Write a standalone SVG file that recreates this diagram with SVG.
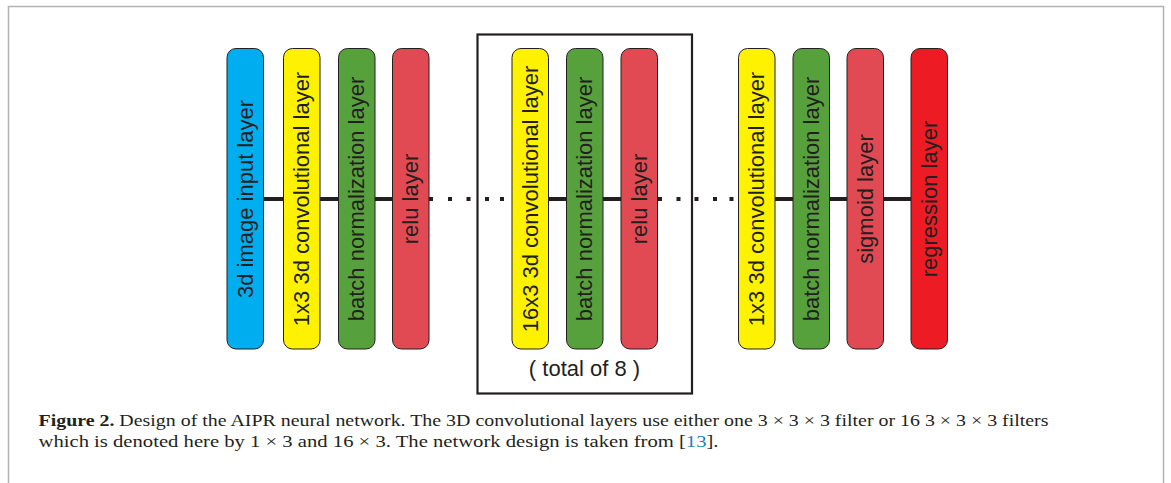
<svg xmlns="http://www.w3.org/2000/svg" width="1171" height="483" viewBox="0 0 1171 483">
<style>
.pill{stroke:#231f20;stroke-width:1}
.lbl{font-family:"Liberation Sans",Arial,sans-serif;font-size:22px;fill:#231f20;text-anchor:middle}
.conn{stroke:#231f20;stroke-width:4;fill:none}
.dot{fill:#231f20}
.cap{font-family:"Liberation Serif","Times New Roman",serif;font-size:17.5px;fill:#231f20}
</style>
<rect width="1171" height="483" fill="#ffffff"/>
<path d="M8.5 483 V6.5 H1163.5 V483" fill="none" stroke="#b3b3b3" stroke-width="1.5"/>

<g id="repeat-box">
<rect x="477.5" y="34.5" width="214.5" height="359" fill="none" stroke="#231f20" stroke-width="2.2"/>
<text class="lbl" x="584.5" y="375.5">( total of 8 )</text>
</g>

<g id="connectors">
<line class="conn" x1="263" y1="199" x2="284" y2="199"/>
<line class="conn" x1="320" y1="199" x2="339" y2="199"/>
<line class="conn" x1="375" y1="199" x2="393" y2="199"/>
<line class="conn" x1="429" y1="199" x2="433" y2="199"/>
<rect class="dot" x="448" y="197" width="4" height="4"/>
<rect class="dot" x="466.5" y="197" width="4" height="4"/>
<rect class="dot" x="485" y="197" width="4" height="4"/>
<rect class="dot" x="500" y="197" width="4" height="4"/>
<line class="conn" x1="548" y1="199" x2="567" y2="199"/>
<line class="conn" x1="603" y1="199" x2="621" y2="199"/>
<line class="conn" x1="657" y1="199" x2="662" y2="199"/>
<rect class="dot" x="676.5" y="197" width="4" height="4"/>
<rect class="dot" x="694.5" y="197" width="4" height="4"/>
<rect class="dot" x="713" y="197" width="4" height="4"/>
<rect class="dot" x="729.5" y="197" width="4" height="4"/>
<line class="conn" x1="775" y1="199" x2="793" y2="199"/>
<line class="conn" x1="829" y1="199" x2="847" y2="199"/>
<line class="conn" x1="883" y1="199" x2="911" y2="199"/>
</g>

<g id="n-input">
<rect class="pill" x="227" y="48.5" width="36.5" height="300.5" rx="9" fill="#00aeef"/>
<text class="lbl" transform="translate(252.5,199) rotate(-90)">3d image input layer</text>
</g>
<g id="n-conv1">
<rect class="pill" x="283.5" y="48.5" width="36.5" height="300.5" rx="9" fill="#fff200"/>
<text class="lbl" transform="translate(309,199) rotate(-90)">1x3 3d convolutional layer</text>
</g>
<g id="n-bn1">
<rect class="pill" x="338.5" y="48.5" width="36.5" height="300.5" rx="9" fill="#57a13d"/>
<text class="lbl" transform="translate(364,199) rotate(-90)">batch normalization layer</text>
</g>
<g id="n-relu1">
<rect class="pill" x="392.5" y="48.5" width="36.5" height="300.5" rx="9" fill="#e24a53"/>
<text class="lbl" transform="translate(418,199) rotate(-90)">relu layer</text>
</g>
<g id="n-conv2">
<rect class="pill" x="512" y="48.5" width="36.5" height="300.5" rx="9" fill="#fff200"/>
<text class="lbl" transform="translate(537.5,199) rotate(-90)">16x3 3d convolutional layer</text>
</g>
<g id="n-bn2">
<rect class="pill" x="566.5" y="48.5" width="36.5" height="300.5" rx="9" fill="#57a13d"/>
<text class="lbl" transform="translate(592,199) rotate(-90)">batch normalization layer</text>
</g>
<g id="n-relu2">
<rect class="pill" x="621" y="48.5" width="36.5" height="300.5" rx="9" fill="#e24a53"/>
<text class="lbl" transform="translate(646.5,199) rotate(-90)">relu layer</text>
</g>
<g id="n-conv3">
<rect class="pill" x="738.5" y="48.5" width="36.5" height="300.5" rx="9" fill="#fff200"/>
<text class="lbl" transform="translate(764,199) rotate(-90)">1x3 3d convolutional layer</text>
</g>
<g id="n-bn3">
<rect class="pill" x="793" y="48.5" width="36.5" height="300.5" rx="9" fill="#57a13d"/>
<text class="lbl" transform="translate(818.5,199) rotate(-90)">batch normalization layer</text>
</g>
<g id="n-sigmoid">
<rect class="pill" x="847" y="48.5" width="36.5" height="300.5" rx="9" fill="#e24a53"/>
<text class="lbl" transform="translate(872.5,199) rotate(-90)">sigmoid layer</text>
</g>
<g id="n-regression">
<rect class="pill" x="911" y="48.5" width="36.5" height="300.5" rx="9" fill="#ed1c24"/>
<text class="lbl" transform="translate(936.5,199) rotate(-90)">regression layer</text>
</g>

<g id="caption">
<text class="cap" x="38.5" y="425.5" textLength="1010" lengthAdjust="spacingAndGlyphs"><tspan font-weight="bold">Figure 2.</tspan> Design of the AIPR neural network. The 3D convolutional layers use either one 3 × 3 × 3 filter or 16 3 × 3 × 3 filters</text>
<text class="cap" x="38.5" y="447" textLength="680" lengthAdjust="spacingAndGlyphs">which is denoted here by 1 × 3 and 16 × 3. The network design is taken from [<tspan fill="#1a82c0">13</tspan>].</text>
</g>
</svg>
